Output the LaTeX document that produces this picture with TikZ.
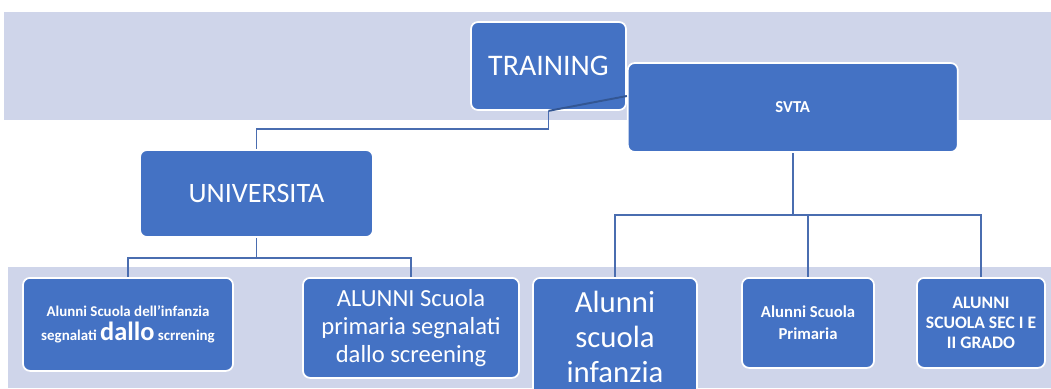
\documentclass[tikz,border=0pt]{standalone}
\usepackage{fontspec}
\setmainfont{Carlito}
\usetikzlibrary{positioning, backgrounds}
\definecolor{boxblue}{HTML}{4472C4}
\definecolor{bandlav}{HTML}{CFD5EA}
\definecolor{linkblue}{HTML}{4A6DB0}
\tikzset{
  blk/.style   = {fill=boxblue, draw=white, line width=1pt, rounded corners=4pt,
                  align=center, text=white, inner sep=2pt},
  hdbox/.style = {blk, font=\fontsize{17}{20}\selectfont},
  leaf/.style  = {blk, anchor=north},
  link/.style  = {draw=linkblue, line width=1.1pt},
  band/.style  = {fill=bandlav},
}

\begin{document}
\begin{tikzpicture}
\useasboundingbox (0,0) rectangle (21.02,-7.76);

\node[hdbox, minimum width=3.1cm, minimum height=1.76cm] (training) at (10.97,-1.32) {TRAINING};
\node[blk, right=0mm of training, yshift=-8.3mm, minimum width=6.6cm, minimum height=1.78cm,
      font=\bfseries\fontsize{9.5}{11}\selectfont] (svta) {SVTA};
\node[hdbox, font=\fontsize{16}{19}\selectfont, minimum width=4.66cm, minimum height=1.74cm]
  (univ) at (5.13,-3.87) {UNIVERSITA};

% bottom row
\node[leaf, minimum width=4.2cm, minimum height=1.86cm, font=\bfseries\fontsize{8.5}{14}\selectfont]
  (infscr) at (2.56,-5.54)
  {Alunni Scuola dell'infanzia\\segnalati {\fontsize{15}{15}\selectfont dallo} scrrening};
\node[leaf, minimum width=4.32cm, minimum height=2.0cm, font=\fontsize{14}{16}\selectfont]
  (primscr) at (8.22,-5.54) {ALUNNI Scuola\\primaria segnalati\\dallo screening};
\node[leaf, minimum width=3.28cm, minimum height=2.36cm, font=\fontsize{17.5}{20}\selectfont]
  (infanzia) at (12.30,-5.54) {Alunni\\scuola\\infanzia};
\node[leaf, minimum width=2.64cm, minimum height=1.8cm, font=\bfseries\fontsize{9.5}{12.5}\selectfont]
  (primaria) at (16.16,-5.54) {Alunni Scuola\\Primaria};
\node[leaf, minimum width=2.56cm, minimum height=1.8cm, font=\bfseries\fontsize{10}{11.6}\selectfont]
  (secgrado) at (19.62,-5.54) {ALUNNI\\SCUOLA SEC I E\\II GRADO};

\begin{scope}[on background layer]
% background bands
\fill[band] (0.08,-0.24) rectangle (21.02,-2.40);
\fill[band] (0.16,-5.34) rectangle (21.02,-7.76);
% connectors
\draw[link] (training.south) -- ++(0,-0.36) -| (univ.north);
\draw[link] (univ.south) -- ++(0,-0.4) coordinate (uj);
\draw[link] (infscr.north) |- (uj) -| (primscr.north);
\draw[link] (svta.south) -- ++(0,-1.24) coordinate (sj);
\draw[link] (infanzia.north) |- (sj) -| (secgrado.north);
\draw[link] (primaria.north) -- (primaria.north |- sj);
\end{scope}
\draw[link, draw=boxblue!75!black] (training.south) -- ([yshift=2.3mm]svta.west);
\end{tikzpicture}
\end{document}
